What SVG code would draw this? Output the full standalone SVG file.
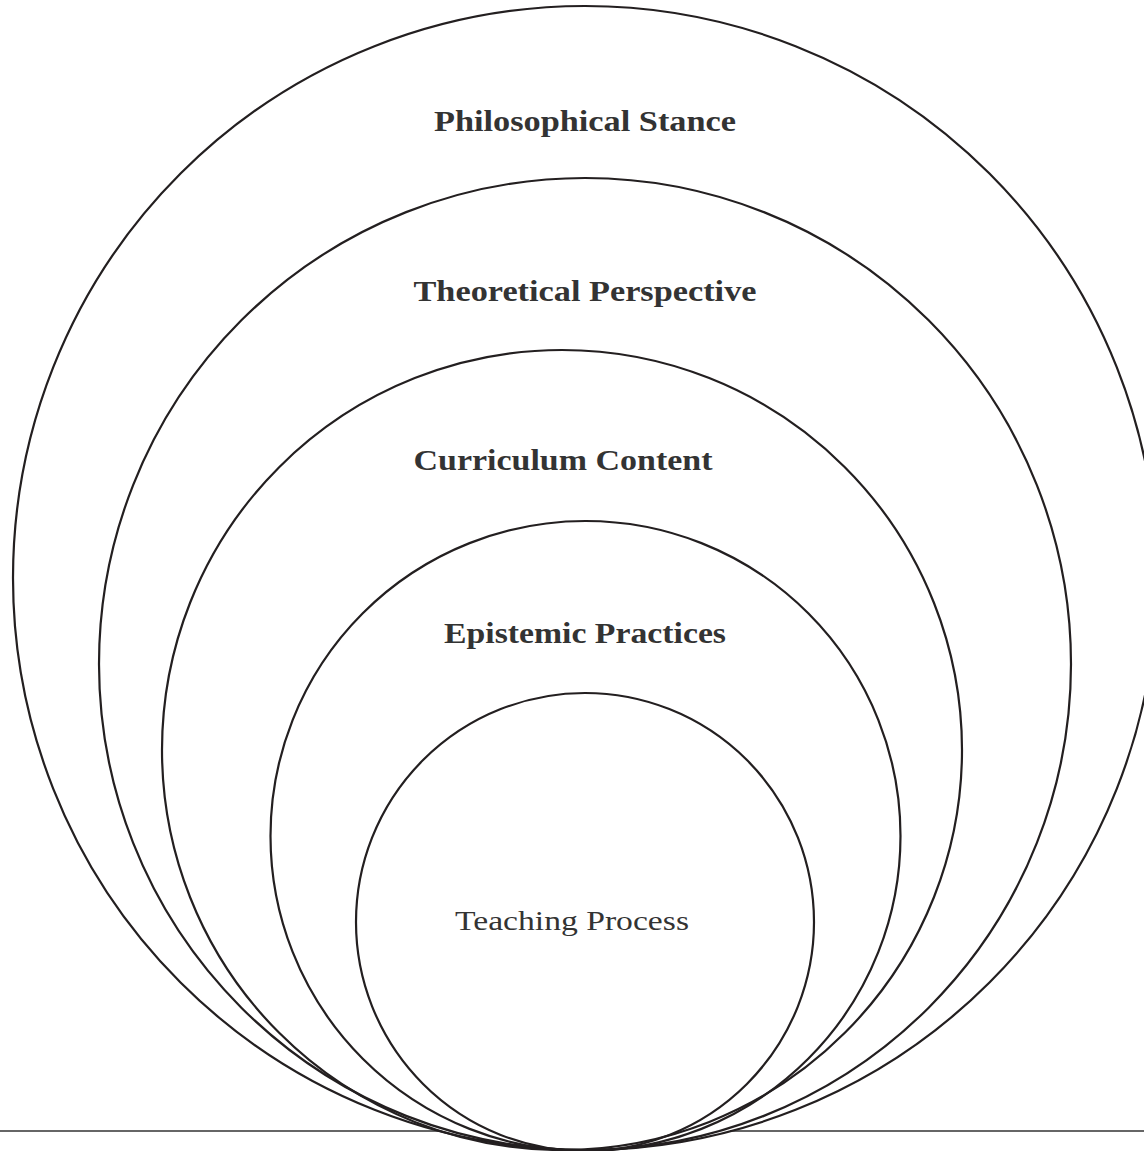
<svg xmlns="http://www.w3.org/2000/svg" width="1144" height="1151" viewBox="0 0 1144 1151">
  <style>
    .ring { fill: none; stroke: #231f20; stroke-width: 2.2; }
    .base { stroke: #333; stroke-width: 1.3; }
    .lbl { font-family: "Liberation Serif", serif; fill: #333; text-anchor: middle; }
    .b { font-weight: bold; font-size: 29px; }
    .r { font-size: 28px; }
  </style>
  <rect width="1144" height="1151" fill="#fff"/>
  <!-- ground line, interrupted where the outer ring meets it -->
  <g id="connectors">
    <line class="base" x1="0" y1="1131" x2="440" y2="1131"/>
    <line class="base" x1="730" y1="1131" x2="1144" y2="1131"/>
  </g>
  <g id="philosophical-stance">
    <circle class="ring" cx="585" cy="578" r="572"/>
    <text class="lbl b" x="585" y="131" textLength="302" lengthAdjust="spacingAndGlyphs">Philosophical Stance</text>
  </g>
  <g id="theoretical-perspective">
    <circle class="ring" cx="585" cy="664" r="486"/>
    <text class="lbl b" x="585" y="301" textLength="343" lengthAdjust="spacingAndGlyphs">Theoretical Perspective</text>
  </g>
  <g id="curriculum-content">
    <circle class="ring" cx="562" cy="750" r="400"/>
    <text class="lbl b" x="563" y="470" textLength="299" lengthAdjust="spacingAndGlyphs">Curriculum Content</text>
  </g>
  <g id="epistemic-practices">
    <circle class="ring" cx="585.5" cy="836" r="315"/>
    <text class="lbl b" x="585" y="643" textLength="282" lengthAdjust="spacingAndGlyphs">Epistemic Practices</text>
  </g>
  <g id="teaching-process">
    <circle class="ring" cx="585" cy="922" r="229"/>
    <text class="lbl r" x="572" y="930" textLength="234" lengthAdjust="spacingAndGlyphs">Teaching Process</text>
  </g>
</svg>
